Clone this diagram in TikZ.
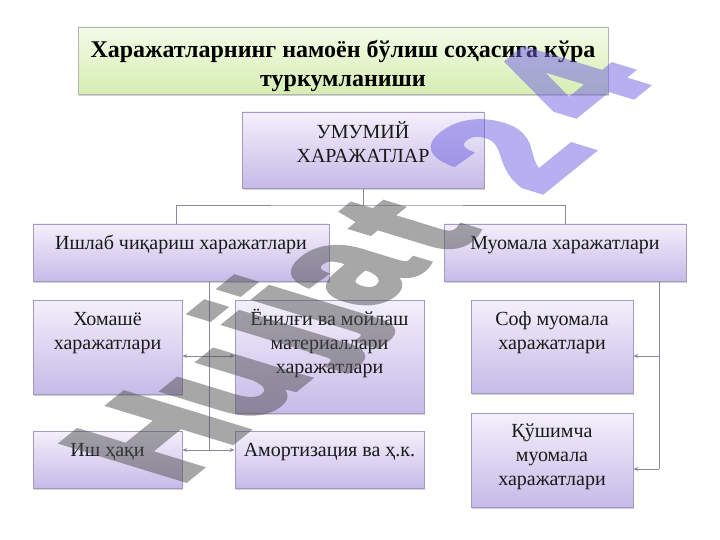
\documentclass[tikz,border=0pt]{standalone}
\usepackage{fontspec}
\setmainfont{Liberation Serif}
\newfontfamily\wmfont[FakeBold=4]{Liberation Sans}
\usetikzlibrary{shadows,arrows.meta,calc}
\definecolor{boxtop}{HTML}{F3F0FB}
\definecolor{boxbot}{HTML}{C6BAE8}
\definecolor{boxline}{HTML}{A39AC4}
\definecolor{ttop}{HTML}{F4FBE8}
\definecolor{tbot}{HTML}{D6EEB2}
\definecolor{tline}{HTML}{B4B4B4}
\definecolor{connc}{HTML}{8E86A8}
\definecolor{wmg}{RGB}{80,80,80}
\definecolor{wml}{RGB}{110,95,225}
\begin{document}
\begin{tikzpicture}[x=1pt,y=-1pt,
  pbox/.style={draw=boxline, line width=0.6pt, top color=boxtop, bottom color=boxbot, inner sep=0pt,
    drop shadow={shadow xshift=1pt, shadow yshift=-2pt, opacity=0.3, fill=black!60}},
  tbox/.style={draw=tline, line width=0.6pt, top color=ttop, bottom color=tbot, inner sep=0pt,
    drop shadow={shadow xshift=1pt, shadow yshift=-2pt, opacity=0.3, fill=black!60}},
  btxt/.style={font=\fontsize{20}{24}\selectfont, align=center, inner sep=0pt, anchor=north, text=black!90},
  ttxt/.style={font=\bfseries\fontsize{24}{29}\selectfont, align=center, inner sep=0pt, anchor=north, text=black},
  cline/.style={draw=connc, line width=0.75pt},
  arr/.style={cline, -{Stealth[length=5pt,width=4pt]}},
  wm/.style={font=\wmfont\bfseries\fontsize{104}{104}\selectfont, inner sep=0pt, anchor=base west, transform shape},
  wmt/.style={cm={1.010,0.818,-1.702,0.520,(0,0)}}
]
\useasboundingbox (0,0) rectangle (720,540);

% boxes
\node[tbox, minimum width=530pt, minimum height=67pt] (title) at (343,60.5) {};
\node[pbox, minimum width=242pt, minimum height=76pt] (um) at (363,150) {};
\node[pbox, minimum width=296pt, minimum height=57pt] (ish) at (181,252.5) {};
\node[pbox, minimum width=242pt, minimum height=57pt] (muo) at (565,252.5) {};
\node[pbox, minimum width=149pt, minimum height=94pt] (hom) at (107.5,347) {};
\node[pbox, minimum width=189pt, minimum height=113pt] (yon) at (329.5,356.5) {};
\node[pbox, minimum width=162pt, minimum height=93pt] (sof) at (552,346.5) {};
\node[pbox, minimum width=162pt, minimum height=94pt] (qush) at (552,460) {};
\node[pbox, minimum width=149pt, minimum height=57pt] (ishh) at (107.5,459.5) {};
\node[pbox, minimum width=189pt, minimum height=57pt] (amort) at (329.5,459.5) {};

% connectors
\coordinate (hj) at (363,205);
\draw[cline] (um.south) -- (hj);
\draw[cline] ([xshift=-5pt]ish.north) |- (hj) -| (muo.north);
\coordinate (la) at (209,356);
\coordinate (lb) at (209,450);
\draw[cline] (ish.south -| la) -- (lb);
\draw[arr] (la) -- (la -| hom.east);
\draw[arr] (la) -- (la -| yon.west);
\draw[arr] (lb) -- (lb -| ishh.east);
\draw[arr] (lb) -- (lb -| amort.west);
\coordinate (ra) at (659,356);
\coordinate (rb) at (659,469);
\draw[cline] (muo.south -| ra) -- (rb);
\draw[arr] (ra) -- (ra -| sof.east);
\draw[arr] (rb) -- (rb -| qush.east);

% texts
\node[ttxt] (titlet) at (343,36.7) {\strut Харажатларнинг намоён бўлиш соҳасига кўра\\туркумланиши};
\node[btxt] (umt) at (363,121.2) {\strut УМУМИЙ\\ХАРАЖАТЛАР};
\node[btxt] (isht) at (181,232.2) {\strut Ишлаб чиқариш харажатлари};
\node[btxt] (muot) at (565,232.2) {\strut Муомала харажатлари};
\node[btxt] (homt) at (107.5,308.2) {\strut Хомашё\\харажатлари};
\node[btxt] (yont) at (329.5,308.2) {\strut Ёнилғи ва мойлаш\\материаллари\\харажатлари};
\node[btxt] (soft) at (552,308.2) {\strut Соф муомала\\харажатлари};
\node[btxt] (qusht) at (552,420.2) {\strut Қўшимча\\муомала\\харажатлари};
\node[btxt] (ishht) at (107.5,439.2) {\strut Иш ҳақи};
\node[btxt] (amortt) at (329.5,439.2) {\strut Амортизация ва ҳ.к.};

% watermark
\begin{scope}[transparency group, opacity=0.5]
\begin{scope}[shift={(178,486)}, wmt]\node[wm,text=wmg] (w1) at (0,0) {H};\end{scope}
\begin{scope}[shift={(251,425)}, wmt]\node[wm,text=wmg] (w2) at (0,0) {u};\end{scope}
\begin{scope}[shift={(312,359)}, wmt]\node[wm,text=wmg] (w3) at (0,0) {j};\end{scope}
\begin{scope}[shift={(342,334)}, wmt]\node[wm,text=wmg] (w4) at (0,0) {j};\end{scope}
\begin{scope}[shift={(370,311)}, wmt]\node[wm,text=wmg] (w5) at (0,0) {a};\end{scope}
\begin{scope}[shift={(445,258)}, wmt]\node[wm,text=wmg] (w6) at (0,0) {t};\end{scope}
\begin{scope}[shift={(538,195)}, wmt]\node[wm,text=wml] (w7) at (0,0) {2};\end{scope}
\begin{scope}[shift={(598,125)}, wmt]\node[wm,text=wml] (w8) at (0,0) {4};\end{scope}
\end{scope}
\end{tikzpicture}
\end{document}
